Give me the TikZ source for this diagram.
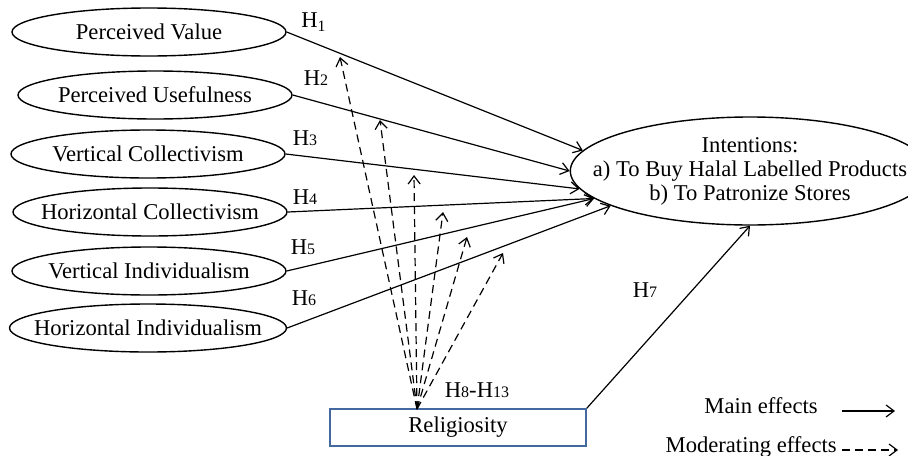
\documentclass[tikz,border=0pt]{standalone}
\usepackage{fontspec}
\setmainfont{Liberation Serif}
\usetikzlibrary{shapes.geometric,arrows.meta}
\definecolor{boxblue}{RGB}{68,104,160}
\newcommand{\hyp}[1]{H{\footnotesize #1}}

\begin{document}
\begin{tikzpicture}[x=0.5pt,y=-0.5pt,
    construct/.style={draw, ellipse, line width=0.7pt, minimum width=137pt,
      minimum height=24pt, inner xsep=-8pt, inner ysep=0pt,
      font=\fontsize{11.3}{12}\selectfont},
    effect/.style={-{Straight Barb[length=4pt,width=6pt]}, line width=0.6pt},
    moderate/.style={effect, dash pattern=on 4pt off 2.5pt},
    hlabel/.style={inner sep=0pt, font=\fontsize{11.3}{12}\selectfont}]
    \useasboundingbox (0,0) rectangle (908,455);
    % antecedents
    \foreach \name/\xpos/\ypos/\txt in {
      pv/149/32/Perceived Value, pu/155/95/Perceived Usefulness,
      vc/148/154/Vertical Collectivism, hc/150/212/Horizontal Collectivism,
      vi/149/271/Vertical Individualism, hi/148/328/Horizontal Individualism
    }{
      \node[construct] (\name) at (\xpos,\ypos) {\txt};
    }
    % outcome and moderator
    \node[construct, minimum width=178pt, minimum height=54pt, inner xsep=-15pt, align=center]
      (int) at (750,171) {Intentions:\\a) To Buy Halal Labelled Products\\b) To Patronize Stores};
    \node[draw=boxblue, line width=0.8pt, minimum width=128pt, minimum height=18.5pt,
      inner sep=0pt, font=\fontsize{11.3}{12}\selectfont] (rel) at (458,427.5) {Religiosity};
    % main effects
    \foreach \name/\ang in {pv/173.5, pu/180, vc/186, hc/190, vi/190.5, hi/194.5}{
      \draw[effect] (\name.east) -- (int.\ang);
    }
    \draw[effect] (rel.north east) -- (int.south);
    % moderating effects
    \coordinate (src) at (417,409);
    \foreach \i/\xpos/\ypos in {1/340/57, 2/380/120, 3/414/175, 4/443/212, 5/467/237, 6/503/253}{
      \coordinate (m\i) at (\xpos,\ypos);
      \draw[moderate] (src) -- (m\i);
    }
    % hypothesis labels
    \node[hlabel] (h1) at (314,22) {H\textsubscript{1}};
    \foreach \i/\xpos/\ypos in {2/316/78, 3/305/138, 4/305/197, 5/303/247, 6/304/298, 7/645/290}{
      \node[hlabel] (h\i) at (\xpos,\ypos) {\hyp{\i}};
    }
    \node[hlabel] (h8) at (477,390) {\hyp{8}-\hyp{13}};
    % legend
    \node[hlabel, anchor=base east] (main) at (818,413) {Main effects};
    \coordinate (mainend) at (895,411);
    \draw[effect] (842,411) -- (mainend);
    \node[hlabel, anchor=base east] (mod) at (837,452) {Moderating effects};
    \coordinate (modend) at (898,450);
    \draw[moderate] (842,450) -- (modend);
  \end{tikzpicture}
\end{document}
